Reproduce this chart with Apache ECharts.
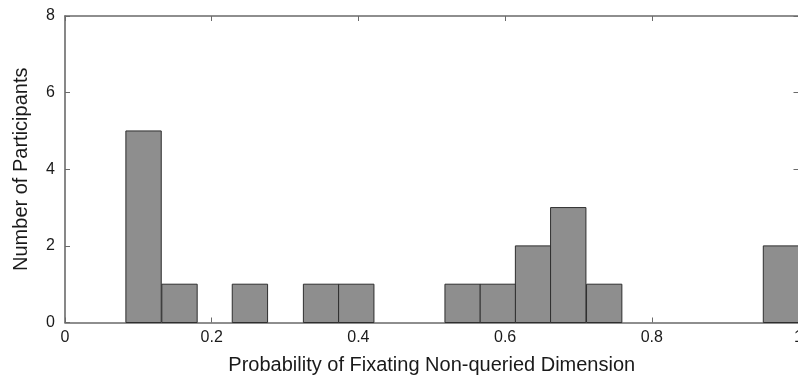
<!DOCTYPE html>
<html>
<head>
<meta charset="utf-8">
<script src="https://cdn.jsdelivr.net/npm/echarts@6/dist/echarts.min.js"></script>
<style>
  html, body { margin: 0; padding: 0; background: #ffffff; }
  #chart { width: 798px; height: 376px; }
</style>
</head>
<body>
<div id="chart"></div>
<script>
// Histogram bins: lower edge of each bin and the number of participants in it
const binStarts = [0.083, 0.132, 0.180, 0.228, 0.276, 0.325, 0.373, 0.421, 0.469, 0.518,
                   0.566, 0.614, 0.662, 0.711, 0.759, 0.807, 0.855, 0.904, 0.952];
const binWidth = 0.0482;
const counts = [5, 1, 0, 1, 0, 1, 1, 0, 0, 1, 1, 2, 3, 1, 0, 0, 0, 0, 2];

const xTicks = [0, 0.2, 0.4, 0.6, 0.8, 1];
const yTicks = [0, 2, 4, 6, 8];

const xTitle = 'Probability of Fixating Non-queried Dimension';
const yTitle = 'Number of Participants';

const FONT = '"Liberation Sans", Arial, Helvetica, sans-serif';
const AXIS_COLOR = '#6a6a6a';

const bars = binStarts.map((s, i) => [s, s + binWidth, counts[i]]);

const frameAxis = {
  axisLine: { show: true, onZero: false, lineStyle: { color: AXIS_COLOR, width: 1.6 } },
  axisTick: { show: true, inside: true, length: 5, lineStyle: { color: AXIS_COLOR, width: 1 } },
  splitLine: { show: false }
};

const chart = echarts.init(document.getElementById('chart'), null, { renderer: 'canvas' });

chart.setOption({
  animation: false,
  backgroundColor: '#ffffff',
  grid: { left: 65, top: 16, width: 733.5, height: 306.5, containLabel: false, outerBoundsMode: 'none' },
  xAxis: [
    Object.assign({}, frameAxis, {
      type: 'value', position: 'bottom',
      min: xTicks[0], max: xTicks[xTicks.length - 1], interval: 0.2,
      name: xTitle, nameLocation: 'middle', nameGap: 33,
      nameTextStyle: { fontFamily: FONT, fontSize: 20, color: '#1a1a1a' },
      axisLabel: {
        show: true, margin: 7, fontFamily: FONT, fontSize: 16, color: '#1a1a1a',
        showMinLabel: true, showMaxLabel: true,
        formatter: v => String(+v.toFixed(1))
      }
    }),
    Object.assign({}, frameAxis, {
      type: 'value', position: 'top',
      min: xTicks[0], max: xTicks[xTicks.length - 1], interval: 0.2,
      axisLabel: { show: false }
    })
  ],
  yAxis: [
    Object.assign({}, frameAxis, {
      type: 'value', position: 'left',
      min: yTicks[0], max: yTicks[yTicks.length - 1], interval: 2,
      name: yTitle, nameLocation: 'middle', nameGap: 34,
      nameTextStyle: { fontFamily: FONT, fontSize: 20, color: '#1a1a1a' },
      axisLabel: { show: true, margin: 10, fontFamily: FONT, fontSize: 16, color: '#1a1a1a' }
    }),
    Object.assign({}, frameAxis, {
      type: 'value', position: 'right',
      min: yTicks[0], max: yTicks[yTicks.length - 1], interval: 2,
      axisLabel: { show: false }
    })
  ],
  series: [{
    type: 'custom',
    xAxisIndex: 0,
    yAxisIndex: 0,
    data: bars,
    encode: { x: [0, 1], y: 2 },
    renderItem: function (params, api) {
      const h = api.value(2);
      if (!h) return null;
      const p0 = api.coord([api.value(0), h]);
      const p1 = api.coord([api.value(1), 0]);
      return {
        type: 'rect',
        shape: { x: p0[0], y: p0[1], width: p1[0] - p0[0], height: p1[1] - p0[1] },
        style: { fill: '#8e8e8e', stroke: '#2e2e2e', lineWidth: 1 }
      };
    }
  }]
});
</script>
</body>
</html>
